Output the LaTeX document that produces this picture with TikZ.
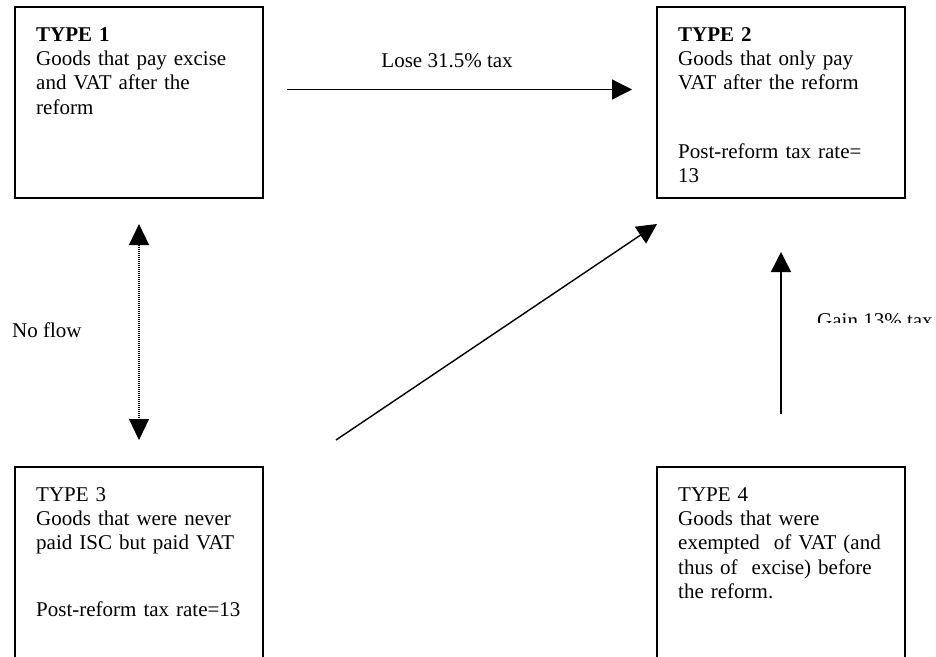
\documentclass[tikz,border=0pt]{standalone}
\usepackage{fontspec}
\setmainfont{Liberation Serif}
\usepackage{tikz}
\usetikzlibrary{arrows.meta}
\tikzstyle{typebox} = [draw, line width=2pt, minimum width=248pt, minimum height=191pt, inner sep=0pt, outer sep=0pt]
\tikzstyle{boxtext} = [anchor=north west, text width=215pt, align=left, inner xsep=21pt, inner ysep=20pt]
\tikzstyle{arrow} = [line width=1.4pt, -{Triangle[length=20pt, width=20pt]}]
\tikzstyle{dotarrow} = [line width=1.2pt, dash pattern=on 1pt off 1pt, {Triangle[length=21pt, width=20pt]}-{Triangle[length=21pt, width=20pt]}]

\begin{document}
\begin{tikzpicture}[x=1pt, y=-1pt, font=\fontsize{21}{24.4}\selectfont]

  \clip (0,0) rectangle (936,656);

  \node (t1) [typebox] at (139,102.5) {};
  \node (t2) [typebox] at (781,102.5) {};
  \node (t3) [typebox] at (139,562.5) {};
  \node (t4) [typebox] at (781,562.5) {};

  \node (t1text) [boxtext] at (t1.north west) {\textbf{TYPE 1}\\Goods that pay excise\\and VAT after the\\reform};
  \node (t2text) [boxtext] at (t2.north west) {\textbf{TYPE 2}\\Goods that only pay\\VAT after the reform\\[44pt]Post-reform tax rate=\\13};
  \node (t3text) [boxtext] at (t3.north west) {TYPE 3\\Goods that were never\\paid ISC but paid VAT\\[42pt]Post-reform tax rate=13};
  \node (t4text) [boxtext] at (t4.north west) {TYPE 4\\Goods that were\\exempted\ \ of VAT (and\\thus of\ \ excise) before\\the reform.};

  \draw [arrow] ([xshift=24pt, yshift=13pt]t1.east) -- node[pos=0.464, anchor=base, yshift=22pt] {Lose 31.5\% tax} ([xshift=-25pt, yshift=13pt]t2.west);

  \draw [dotarrow] ([yshift=-26pt]t1.south) -- ([yshift=27pt]t3.north);
  \node (noflow) [anchor=base west, inner sep=0pt] at (12,337) {No flow};

  \draw [arrow] ([xshift=73pt, yshift=27pt]t3.north east) -- ([yshift=-26pt]t2.south west);

  \draw [arrow] ([yshift=53pt]t4.north) -- ([yshift=-54pt]t2.south);
  \begin{scope}
    \clip (790,290) rectangle (936,322);
    \node (gain) [anchor=base west, inner sep=0pt] at (817,327) {Gain 13\% tax};
  \end{scope}

\end{tikzpicture}
\end{document}
